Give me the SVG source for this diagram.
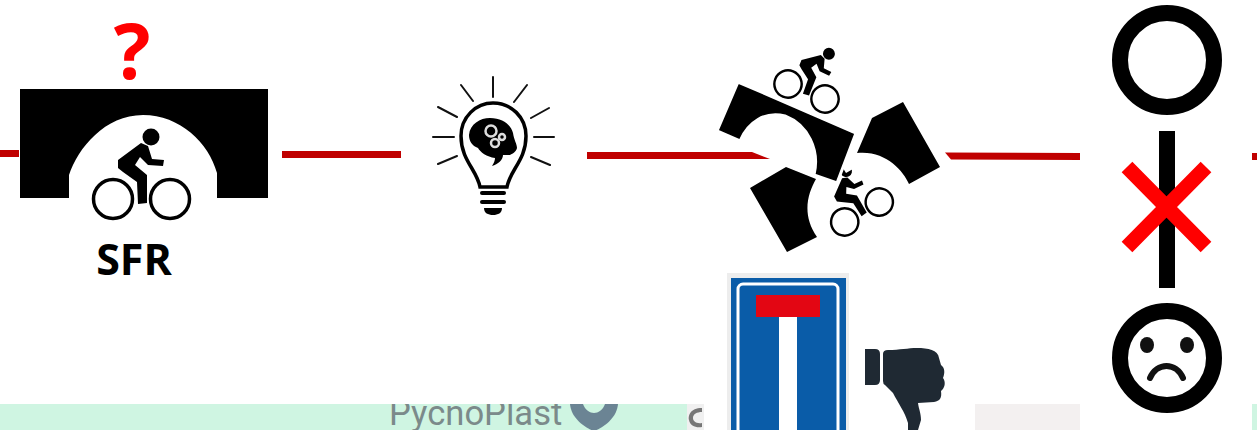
<svg xmlns="http://www.w3.org/2000/svg" width="1257" height="430" viewBox="0 0 1257 430">
<style>
.ink{fill:#000}
.line{fill:#c00000}
.ray{stroke:#111;stroke-width:2;fill:none;stroke-linecap:round}
.ring{fill:none;stroke:#000;stroke-width:16}
.gear{fill:none;stroke:#ddd;stroke-width:2.5}
</style>
<defs>
<clipPath id="strip"><rect x="0" y="404" width="1257" height="26"/></clipPath>
<g id="cyclist">
<circle cx="151" cy="137" r="8.5" fill="#000"/>
<path class="ink" d="M141 143 L118 160 L118 168 L123 172 L137 182 L138 204 L147 203 L147 175 L135 165 L140 157 L148 165 L163 166 L164 160 L152 159 L148 146 Z"/>
<circle cx="113" cy="199" r="19.5" fill="none" stroke="#000" stroke-width="3.5"/>
<circle cx="170" cy="199" r="19.5" fill="none" stroke="#000" stroke-width="3.5"/>
</g>
</defs>
<g id="background-map">
<rect x="0" y="404" width="687" height="26" fill="#cff5e2"/>
<rect x="975" y="404" width="105" height="26" fill="#f3f0f0"/>
<rect x="1252" y="404" width="5" height="26" fill="#cff5e2"/>
<g clip-path="url(#strip)">
<text x="389" y="425" font-family="Roboto, sans-serif" font-size="34.6" fill="#7b8a8a">PycnoPlast</text>
<path d="M570 404 C571 418 585 428 594 431 C603 428 617 418 618 404 Z" fill="#6b8494"/>
<path d="M583 404 C585 410 590 413 594 413 C598 413 603 410 605 404 Z" fill="#cff5e2"/>
<rect x="687" y="404" width="17" height="26" fill="#f0f0f0"/>
<path d="M702 408 C690 408 688 416 689 420 C690 426 696 428 702 427 L702 423 C696 424 693 421 693 418 C693 414 697 412 702 412 Z" fill="#777"/>
</g>
</g>
<g id="connectors">
<rect class="line" x="0" y="150" width="19" height="7"/>
<rect class="line" x="282" y="151" width="119" height="7"/>
<polygon class="line" points="587,152 752,152 770,159 587,159"/>
<polygon class="line" points="945,152.5 1080,153 1080,160 951,159.5"/>
<rect class="line" x="1252" y="153" width="5" height="7"/>
</g>
<g id="node-sfr">
<path class="ink" d="M20 89 H268 V198 H217 V173 C209 143 180 115 143 115 C105 115 78 148 69 175 V198 H20 Z"/>
<use href="#cyclist"/>
<text x="132" y="79" text-anchor="middle" font-family="Open Sans, sans-serif" font-weight="700" font-size="77" fill="#f00">?</text>
<text x="134" y="275" text-anchor="middle" font-family="Open Sans, sans-serif" font-weight="700" font-size="43" fill="#000">SFR</text>
</g>
<g id="node-idea">
<path d="M480 187 C477 170 461 160 461 136 C461 117 476 103 493 103 C511 103 526 117 526 136 C526 160 510 170 507 187 Z" fill="#fff" stroke="#000" stroke-width="3.5"/>
<path class="ink" d="M469 135 C470 124 480 118 490 118 C503 118 511 125 513 133 C514 140 517 144 517 148 C516 152 512 154 510 155 L503 155 C503 160 498 164 492 166 C494 163 495 160 495 158 C487 157 480 152 478 148 C472 146 469 141 469 135 Z"/>
<circle class="gear" cx="491" cy="131" r="5.5"/>
<circle class="gear" cx="495" cy="143" r="4"/>
<circle class="gear" cx="502" cy="137" r="3"/>
<g class="ray">
<path d="M493 77V97M461 85L473 101M527 85L514 102M438 107L457 117M549 108L531 118M433 137H454M534 137H554M438 164L457 156M531 157L550 165"/>
</g>
<rect class="ink" x="480" y="191" width="26" height="4" rx="2"/>
<rect class="ink" x="480" y="200" width="26" height="4" rx="2"/>
<path class="ink" d="M484 208 H502 C502 213 498 215 493 215 C488 215 484 213 484 208 Z"/>
</g>
<g id="node-broken-bridge">
<use href="#cyclist" transform="translate(806.5 91.5) rotate(22) scale(.7) translate(-141.5 -199)"/>
<use href="#cyclist" transform="translate(862 212) rotate(-30) scale(.7) translate(-141.5 -199)"/>
<polygon points="838,160 860,160 853,169 846,173" fill="#fff"/>
<path class="ink" stroke="#fff" stroke-width="3" d="M738 82 L856 133 L837 183 L814 175 C820 150 808 125 785 116 C765 111 748 122 740 141 L717 131 Z"/>
<path class="ink" d="M903 102 L940 167 L909 184 C903 170 885 150 857 153 L872 118 Z"/>
<path class="ink" d="M786 167 L816 179 C807 195 802 215 817 237 L787 252 L750 188 Z"/>
</g>
<g id="node-dead-end">
<rect x="727" y="273" width="122" height="160" fill="#ededed"/>
<rect x="731" y="278" width="115" height="155" fill="#0a5ca8"/>
<rect x="738" y="284" width="100" height="155" rx="5" fill="none" stroke="#fff" stroke-width="3"/>
<rect x="756" y="295" width="64" height="22" fill="#e30613"/>
<rect x="779" y="317" width="18" height="113" fill="#fff"/>
</g>
<g id="node-thumb-down">
<path d="M865 349 H875 Q880 349 880 354 V380 Q880 385 875 385 H865 Z" fill="#1f2933"/>
<path d="M883 354 Q883 350 888 350 C900 350 908 348 917 348 C928 348 938 350 939 358 L941 365 C945 368 945 373 943 378 C946 382 945 388 941 391 C942 398 940 401 934 402 L918 403 C919 410 921 413 921 420 L918 430 H908 L908 423 C905 412 898 403 893 393 L885 385 Q883 384 883 381 Z" fill="#1f2933"/>
</g>
<g id="node-no-outcome">
<circle class="ring" cx="1167" cy="60" r="47"/>
<rect class="ink" x="1159" y="131" width="16" height="157"/>
<path d="M1127 167 L1206 247 M1206 167 L1127 247" stroke="#f00" stroke-width="15" fill="none"/>
<circle class="ring" cx="1167" cy="358" r="47"/>
<ellipse cx="1147" cy="345" rx="7" ry="8" fill="#111"/>
<ellipse cx="1187" cy="345" rx="7" ry="8" fill="#111"/>
<path d="M1150 378 C1157 362 1176 362 1183 378" fill="none" stroke="#111" stroke-width="6" stroke-linecap="round"/>
</g>
</svg>
